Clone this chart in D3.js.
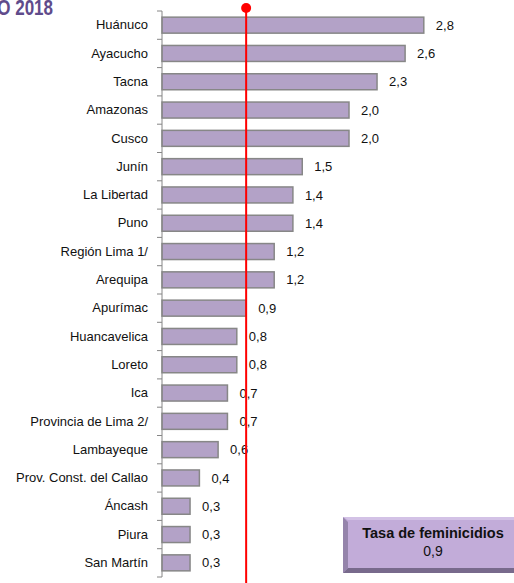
<!DOCTYPE html>
<html>
<head>
<meta charset="utf-8">
<script src="https://cdn.jsdelivr.net/npm/d3@7"></script>
<style>
  body { margin: 0; background: #fff; }
  svg { display: block; font-family: "Liberation Sans", Arial, sans-serif; }
</style>
</head>
<body>
<div id="chart-area"></div>
<script>
// data
const departamentos = ["Huánuco", "Ayacucho", "Tacna", "Amazonas", "Cusco", "Junín",
    "La Libertad", "Puno", "Región Lima 1/", "Arequipa", "Apurímac", "Huancavelica",
    "Loreto", "Ica", "Provincia de Lima 2/", "Lambayeque", "Prov. Const. del Callao",
    "Áncash", "Piura", "San Martín"];
const tasas = [2.8, 2.6, 2.3, 2.0, 2.0, 1.5, 1.4, 1.4, 1.2, 1.2, 0.9, 0.8,
    0.8, 0.7, 0.7, 0.6, 0.4, 0.3, 0.3, 0.3];
const tasaNacional = 0.9;
const tituloTexto = "AÑO 2018";
const cuadroTitulo = "Tasa de feminicidios";

let data = departamentos.map((d, i) => ({ name: d, value: tasas[i] }));

let fmt = d3.formatLocale({ decimal: ",", thousands: ".", grouping: [3], currency: ["S/", ""] }).format(".1f");

let svg = d3.select("#chart-area")
    .append("svg")
    .attr("width", 514)
    .attr("height", 583);

// title, cut off at the top like the original
svg.append("text")
    .attr("transform", "translate(53,15) scale(1,1.25)")
    .attr("text-anchor", "end")
    .attr("font-size", "17px")
    .attr("font-weight", "bold")
    .attr("fill", "#5f4b8b")
    .text(tituloTexto);

let x = d3.scaleLinear()
    .domain([0, 3])
    .range([162, 162 + 280.5]);

let y = d3.scaleBand()
    .domain(departamentos)
    .range([11, 577])
    .paddingInner(0.435)
    .paddingOuter(0.2175);

// bars
svg.selectAll("rect.bar").data(data)
    .enter().append("rect")
    .attr("class", "bar")
    .attr("x", x(0))
    .attr("y", d => y(d.name))
    .attr("width", d => x(d.value) - x(0))
    .attr("height", y.bandwidth())
    .attr("fill", "#b3a2c7")
    .attr("stroke", "#878787")
    .attr("stroke-width", 1.5);

// value labels
svg.selectAll("text.val").data(data)
    .enter().append("text")
    .attr("class", "val")
    .attr("x", d => x(d.value) + 12)
    .attr("y", d => y(d.name) + y.bandwidth() / 2)
    .attr("dy", "0.35em")
    .attr("font-size", "13px")
    .attr("fill", "#111")
    .text(d => fmt(d.value));

// category axis
let yAxis = d3.axisLeft(y).tickSize(0).tickPadding(14);
let g = svg.append("g")
    .attr("transform", "translate(" + x(0) + ",0)")
    .call(yAxis);
g.select(".domain").remove();
g.selectAll("text").attr("font-size", "13px").attr("fill", "#111")
    .attr("font-family", "Liberation Sans, Arial, sans-serif");

let step = y.step();
let bounds = departamentos.map(d => y(d) - step * y.paddingInner() / 2);
bounds.push(y.range()[1]);
svg.append("line")
    .attr("x1", x(0)).attr("x2", x(0))
    .attr("y1", y.range()[0]).attr("y2", y.range()[1])
    .attr("stroke", "#868686").attr("stroke-width", 1);
svg.selectAll("line.tick-b").data(bounds)
    .enter().append("line")
    .attr("class", "tick-b")
    .attr("x1", x(0) - 5).attr("x2", x(0))
    .attr("y1", d => d).attr("y2", d => d)
    .attr("stroke", "#868686");

// national rate line
svg.append("line")
    .attr("x1", x(tasaNacional)).attr("x2", x(tasaNacional))
    .attr("y1", 8).attr("y2", 583)
    .attr("stroke", "#ff0000").attr("stroke-width", 2);
svg.append("circle")
    .attr("cx", x(tasaNacional)).attr("cy", 8).attr("r", 5)
    .attr("fill", "#ff0000");

// beveled box
let bx = 343, by = 517, bw = 200, bh = 56, bev = 5;
svg.append("rect")
    .attr("x", bx).attr("y", by).attr("width", bw).attr("height", bh)
    .attr("fill", "#c2acd9");
svg.append("polygon")
    .attr("points", [[bx, by], [bx + bev, by + bev], [bx + bev, by + bh - bev], [bx, by + bh]].join(" "))
    .attr("fill", "#9584ab");
svg.append("polygon")
    .attr("points", [[bx, by], [bx + bw, by], [bx + bw, by + 3], [bx + bev, by + 3]].join(" "))
    .attr("fill", "#d3c2e6");
svg.append("polygon")
    .attr("points", [[bx, by + bh], [bx + bev, by + bh - bev], [bx + bw, by + bh - bev], [bx + bw, by + bh]].join(" "))
    .attr("fill", "#786a8c");
svg.append("text")
    .attr("x", 433).attr("y", 538)
    .attr("text-anchor", "middle")
    .attr("font-size", "14.5px").attr("font-weight", "bold")
    .attr("fill", "#111")
    .text(cuadroTitulo);
svg.append("text")
    .attr("x", 433).attr("y", 556)
    .attr("text-anchor", "middle")
    .attr("font-size", "14px")
    .attr("fill", "#111")
    .text(fmt(tasaNacional));
</script>
</body>
</html>
